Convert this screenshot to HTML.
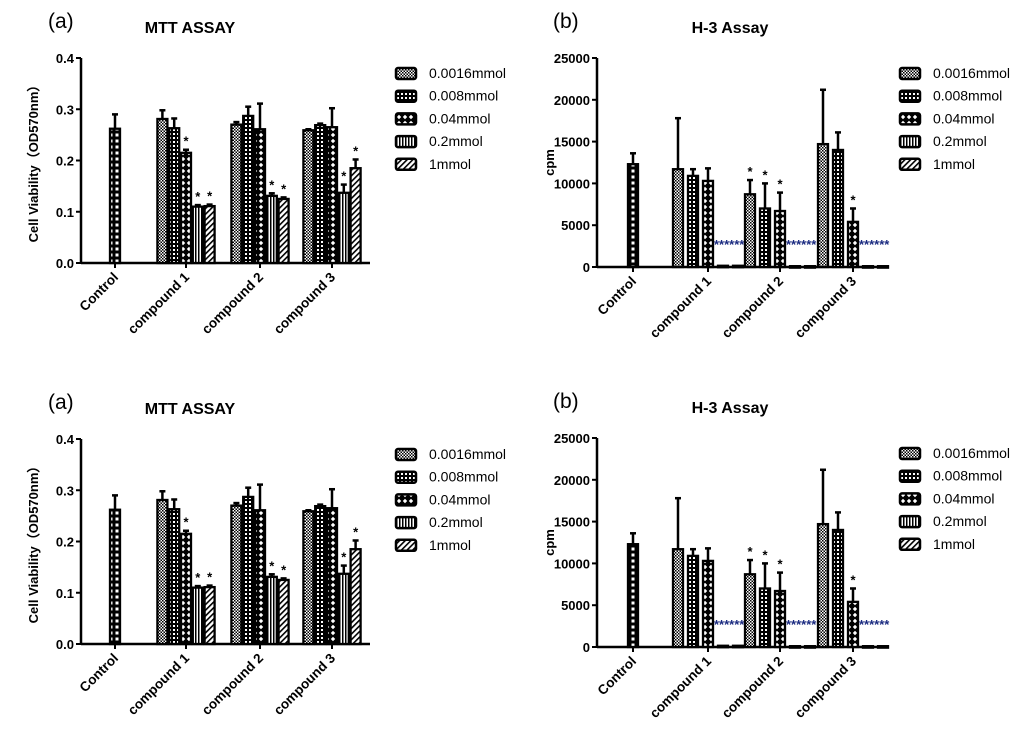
<!DOCTYPE html>
<html><head><meta charset="utf-8"><style>
html,body{margin:0;padding:0;background:#fff;}
svg{display:block;font-family:"Liberation Sans",Arial,sans-serif;}
</style></head><body>
<svg id="c" width="1024" height="730" viewBox="0 0 1024 730" xmlns="http://www.w3.org/2000/svg">
<defs>
<pattern id="p0" width="3" height="3" patternUnits="userSpaceOnUse"><rect width="3" height="3" fill="#fff"/><rect width="1.5" height="1.5" fill="#000"/><rect x="1.5" y="1.5" width="1.5" height="1.5" fill="#000"/></pattern>
<pattern id="p1" width="4" height="4" patternUnits="userSpaceOnUse"><rect width="4" height="4" fill="#000"/><rect x="1" y="1" width="2" height="2" fill="#fff"/></pattern>
<pattern id="p2" width="6" height="6" patternUnits="userSpaceOnUse"><rect width="6" height="6" fill="#000"/><path d="M3 0.8L5.2 3 3 5.2 0.8 3Z" fill="#fff"/></pattern>
<pattern id="p3" width="3" height="3" patternUnits="userSpaceOnUse"><rect width="3" height="3" fill="#fff"/><rect width="1.5" height="3" fill="#000"/></pattern>
<pattern id="p4" width="4" height="4" patternUnits="userSpaceOnUse" patternTransform="rotate(45)"><rect width="4" height="4" fill="#fff"/><rect width="1.6" height="4" fill="#000"/></pattern>
<pattern id="pc" width="6" height="6" patternUnits="userSpaceOnUse"><rect width="6" height="6" fill="#000"/><rect x="1.5" y="1.5" width="3" height="3" fill="#fff"/></pattern>
</defs>
</svg>
<script>
const categories = ["Control","compound 1","compound 2","compound 3"];
const seriesNames = ["0.0016mmol","0.008mmol","0.04mmol","0.2mmol","1mmol"];
const mttControl = 0.262, mttControlErr = 0.028;
const mttC1 = [0.281,0.263,0.215,0.110,0.111];
const mttC2 = [0.270,0.287,0.261,0.131,0.125];
const mttC3 = [0.259,0.269,0.265,0.137,0.185];
const mttE1 = [0.017,0.019,0.006,0.003,0.003];
const mttE2 = [0.005,0.018,0.050,0.005,0.003];
const mttE3 = [0.002,0.003,0.037,0.016,0.017];
const mttStars = [[2,3,4],[3,4],[3,4]];
const mttTicks = ["0.0","0.1","0.2","0.3","0.4"];
const h3Control = 12300, h3ControlErr = 1300;
const h3C1 = [11700,10900,10300,150,150];
const h3C2 = [8700,7000,6700,100,100];
const h3C3 = [14700,14000,5400,100,100];
const h3E1 = [6100,800,1500,0,0];
const h3E2 = [1700,3000,2200,0,0];
const h3E3 = [6500,2100,1600,0,0];
const h3Stars = [[],[0,1,2],[2]];
const h3Ticks = ["0","5000","10000","15000","20000","25000"];

const svg = document.getElementById('c');
const NS = 'http://www.w3.org/2000/svg';
function mk(tag, attrs, parent, text){
  const e = document.createElementNS(NS, tag);
  for (const k in attrs) e.setAttribute(k, attrs[k]);
  if (text !== undefined) e.textContent = text;
  (parent||svg).appendChild(e);
  return e;
}
function panel(cfg){
  const g = mk('g', {});
  
  
  const y = v => cfg.y0 - (v / cfg.max) * (cfg.y0 - cfg.yTop);
  const lab = mk('text', {x:cfg.labX, y:cfg.labY, 'font-size':21}, g, cfg.lab);
  
  
  const ti = mk('text', {x:cfg.titleX, y:cfg.titleY, 'font-size':16, 'font-weight':'bold', 'text-anchor':'middle'}, g, cfg.title);
  
  
  mk('line', {x1:cfg.ax, y1:cfg.yTop, x2:cfg.ax, y2:cfg.y0, stroke:'#000','stroke-width':2.5}, g);
  mk('line', {x1:cfg.ax, y1:cfg.y0, x2:cfg.axEnd, y2:cfg.y0, stroke:'#000','stroke-width':2.5}, g);
  cfg.ticks.forEach((t,i)=>{
    const v = i * cfg.max / (cfg.ticks.length-1);
    mk('line', {x1:cfg.ax-5, y1:y(v), x2:cfg.ax, y2:y(v), stroke:'#000','stroke-width':2}, g);
    const tt = mk('text', {x:cfg.ax-7, y:y(v)+5, 'font-size':13, 'font-weight':'bold', 'text-anchor':'end'}, g, t);
    
    
  });
  const yt = mk('text', {transform:`translate(${cfg.ax-43},${(cfg.y0+cfg.yTop)/2}) rotate(-90)`, 'font-size':13, 'font-weight':'bold', 'text-anchor':'middle'}, g, cfg.yTitle);
  
  
  categories.forEach((c,i)=>{
    const cx = cfg.centers[i];
    mk('line', {x1:cx, y1:cfg.y0, x2:cx, y2:cfg.y0+5, stroke:'#000','stroke-width':2}, g);
    const xt = mk('text', {transform:`translate(${cx+4},${cfg.y0+15}) rotate(-45)`, 'font-size':13.5, 'font-weight':'bold', 'text-anchor':'end'}, g, c);
    
    
  });
  function bar(cx, v, e, fill){
    const w = cfg.bw;
    if (e>0){
      mk('line', {x1:cx, y1:y(v), x2:cx, y2:y(v+e), stroke:'#000','stroke-width':2.5}, g);
      mk('line', {x1:cx-3, y1:y(v+e), x2:cx+3, y2:y(v+e), stroke:'#000','stroke-width':2.5}, g);
    }
    const r = mk('rect', {x:cx-w/2, y:y(v), width:w, height:Math.max(cfg.y0-y(v),1.5), fill:fill, stroke:'#000','stroke-width':2.3}, g);
    
    
  }
  bar(cfg.centers[0], cfg.control, cfg.controlErr, 'url(#pc)');
  cfg.groups.forEach((vals, gi)=>{
    const c = cfg.centers[gi+1];
    vals.forEach((v, si)=>{
      const cx = c + (si-2)*cfg.sp;
      bar(cx, v, cfg.errs[gi][si], `url(#p${si})`);
      if (cfg.stars[gi].includes(si)){
        const st = mk('text', {x:cx, y:y(v+cfg.errs[gi][si])-4, 'font-size':13, 'font-weight':'bold', 'text-anchor':'middle'}, g, '*');
        
        
      }
    });
    if (cfg.dots){
      const d = mk('text', {x:c+cfg.sp*0.4, y:cfg.y0-18, 'font-size':13, 'font-weight':'bold', fill:'#1a2a80'}, g, '******');
      
      
    }
  });
  seriesNames.forEach((n,i)=>{
    const ly = cfg.legY + i*cfg.legDy;
    const lr = mk('rect', {x:cfg.legX, y:ly-5, width:20, height:11, rx:2, fill:`url(#p${i})`, stroke:'#000','stroke-width':2.5}, g);
    
    
    const lt = mk('text', {x:cfg.legX+33, y:ly+5, 'font-size':14}, g, n);
    
    
  });
}
function mtt(dy, name){
  panel({name, lab:'(a)', labX:48, labY:28+dy, title:'MTT ASSAY', titleX:190, titleY:33+dy,
    ax:81, axEnd:370, yTop:58+dy, y0:263+dy, max:0.4, ticks:mttTicks, yTitle:'Cell Viability（OD570nm）',
    centers:[115,186,260,332], bw:10, sp:11.8, control:mttControl, controlErr:mttControlErr,
    groups:[mttC1,mttC2,mttC3], errs:[mttE1,mttE2,mttE3], stars:mttStars, dots:false,
    legX:396, legY:73+dy, legDy:22.7});
}
function h3(dy, name){
  panel({name, lab:'(b)', labX:553, labY:28+dy, title:'H-3 Assay', titleX:730, titleY:33+dy,
    ax:597, axEnd:887, yTop:58+dy, y0:267+dy, max:25000, ticks:h3Ticks, yTitle:'cpm',
    centers:[633,708,780,853], bw:10, sp:15, control:h3Control, controlErr:h3ControlErr,
    groups:[h3C1,h3C2,h3C3], errs:[h3E1,h3E2,h3E3], stars:h3Stars, dots:true,
    legX:900, legY:73+dy, legDy:22.7});
}
mtt(0, 'mtt-chart-top');
h3(0, 'h3-chart-top');
mtt(381, 'mtt-chart-bottom');
h3(380, 'h3-chart-bottom');
</script>
</body></html>
